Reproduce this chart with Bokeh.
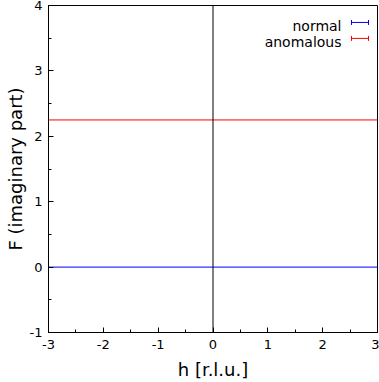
from bokeh.plotting import figure
from bokeh.models import Span, SingleIntervalTicker, Range1d, Label, CustomJSTickFormatter
from bokeh.embed import file_html
from bokeh.resources import INLINE

# ---- data ----
h = [-3.0, 3.0]
normal = [0.0, 0.0]
anomalous = [2.25, 2.25]
series_names = ["normal", "anomalous"]
series_colors = ["#0000ff", "#ff0000"]
x_ticks = [-3, -2, -1, 0, 1, 2, 3]
y_ticks = [-1, 0, 1, 2, 3, 4]

W, H = 379, 382
LEFT, RIGHT, TOP, BOTTOM = 48, 2, 5, 49
X0, X1, Y0, Y1 = -3, 3, -1, 4

p = figure(width=W, height=H, output_backend="svg", toolbar_location=None,
           x_range=Range1d(X0, X1), y_range=Range1d(Y0, Y1),
           min_border_left=LEFT, min_border_right=RIGHT,
           min_border_top=TOP, min_border_bottom=BOTTOM)
p.grid.visible = False
p.outline_line_color = "#000000"
p.outline_line_width = 1
p.background_fill_color = "white"
p.border_fill_color = "white"

FONT = "DejaVu Sans"
for ax, lab in ((p.xaxis[0], "h [r.l.u.]"), (p.yaxis[0], "F (imaginary part)")):
    ax.ticker = SingleIntervalTicker(interval=1, num_minor_ticks=2)
    ax.formatter = CustomJSTickFormatter(code="return String(tick);")
    ax.axis_label = lab
    ax.axis_label_text_font = FONT
    ax.axis_label_text_font_size = "18px"
    ax.axis_label_text_font_style = "normal"
    ax.axis_label_text_color = "#000000"
    ax.major_label_text_font = FONT
    ax.major_label_text_font_size = "13px"
    ax.major_label_text_color = "#000000"
    ax.major_tick_in = 5
    ax.major_tick_out = 0
    ax.minor_tick_in = 3
    ax.minor_tick_out = 0
    ax.major_tick_line_color = "#000000"
    ax.minor_tick_line_color = "#000000"
    ax.axis_line_color = "#000000"

p.xaxis[0].major_label_standoff = 7
p.xaxis[0].axis_label_standoff = 7
p.yaxis[0].major_label_standoff = 6
p.yaxis[0].axis_label_standoff = 1
p.yaxis[0].major_label_orientation = "horizontal"

# zero axis
p.add_layout(Span(location=0, dimension="height", line_color="#000000", line_width=1))

# data lines
p.line(h, normal, line_color=series_colors[0], line_width=1)
p.line(h, anomalous, line_color=series_colors[1], line_width=1)

# ---- legend (drawn manually: label right-aligned, sample on the right) ----
fw = W - LEFT - RIGHT
fh = H - TOP - BOTTOM
def px_x(px):
    return X0 + (px - LEFT) * (X1 - X0) / fw
def px_y(py):
    return Y1 - (py - TOP) * (Y1 - Y0) / fh

rows_base = [26, 42]
rows_line = [22, 38]
for name, col, yb, yl in zip(series_names, series_colors, rows_base, rows_line):
    p.add_layout(Label(x=px_x(341), y=px_y(yb), text=name, text_align="right",
                       text_baseline="alphabetic", text_font=FONT,
                       text_font_size="14px", text_color="#000000"))
    p.segment(x0=[px_x(351)], y0=[px_y(yl)], x1=[px_x(368)], y1=[px_y(yl)],
              line_color=col, line_width=1)
    p.segment(x0=[px_x(351), px_x(368)], y0=[px_y(yl - 2.5)] * 2,
              x1=[px_x(351), px_x(368)], y1=[px_y(yl + 2.5)] * 2,
              line_color=col, line_width=1)

open("out.html", "w").write(file_html(p, INLINE))
